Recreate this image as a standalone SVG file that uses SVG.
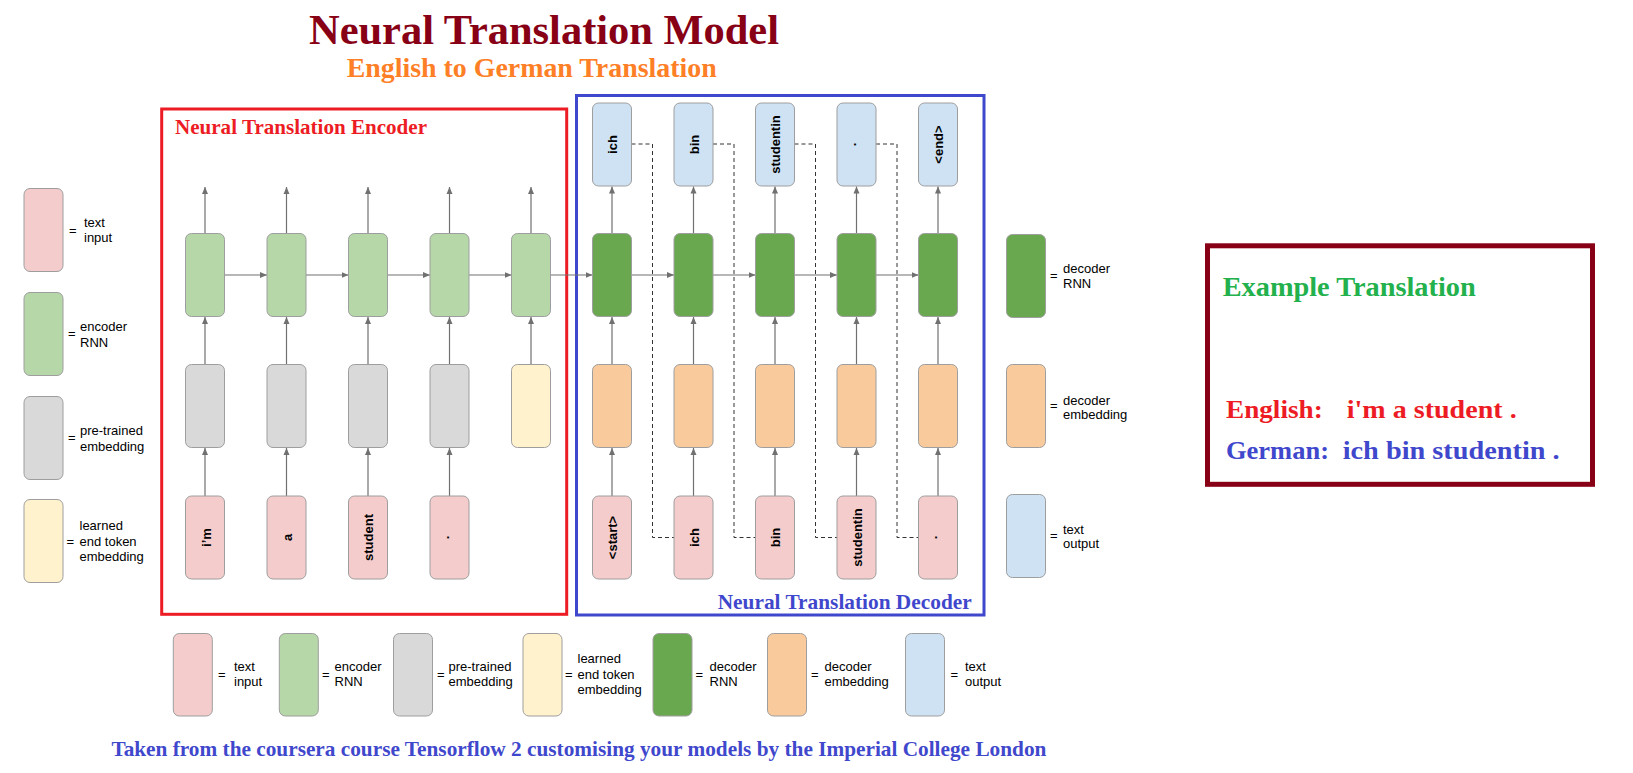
<svg xmlns="http://www.w3.org/2000/svg" width="1633" height="773" viewBox="0 0 1633 773">
<defs>
<marker id="ah" markerUnits="userSpaceOnUse" markerWidth="8" markerHeight="7" refX="7" refY="3.5" orient="auto">
<path d="M0,0.5 L7,3.5 L0,6.5 z" fill="#707070"/>
</marker>
</defs>
<style>
.box{stroke:#9e9e9e;stroke-width:1}
.pink{fill:#f4cccc}.lg{fill:#b6d7a8}.gray{fill:#d9d9d9}.yel{fill:#fff2cc}.dg{fill:#6aa84f}.org{fill:#f9cb9c}.lb{fill:#cfe2f3}
.arr{stroke:#707070;stroke-width:1.2;fill:none;marker-end:url(#ah)}
.dash{stroke:#333;stroke-width:1;fill:none;stroke-dasharray:4 3}
.lbl{font-family:"Liberation Sans",Arial,sans-serif;font-size:13px;font-weight:bold;fill:#000;text-anchor:middle}
.leg{font-family:"Liberation Sans",Arial,sans-serif;font-size:13px;fill:#000}
.ser{font-family:"Liberation Serif","Times New Roman",serif;font-weight:bold}
.frame{fill:none}
</style>
<rect width="1633" height="773" fill="#fff"/>

<g id="titles" class="ser">
<text x="544" y="43.5" text-anchor="middle" font-size="42" fill="#880015" textLength="470" lengthAdjust="spacingAndGlyphs">Neural Translation Model</text>
<text x="531.7" y="77" text-anchor="middle" font-size="28" fill="#ff7f27" textLength="370" lengthAdjust="spacingAndGlyphs">English to German Translation</text>
</g>

<g id="encoder-frame">
<rect class="frame" x="161.7" y="109" width="405" height="505.3" stroke="#ed1c24" stroke-width="3"/>
<text class="ser" x="175" y="134" font-size="21" fill="#ed1c24" textLength="252" lengthAdjust="spacingAndGlyphs">Neural Translation Encoder</text>
</g>

<g id="decoder-frame">
<rect class="frame" x="576.5" y="95.5" width="407.5" height="519.5" stroke="#3f48cc" stroke-width="3"/>
<text class="ser" x="717.7" y="608.5" font-size="21" fill="#3f48cc" textLength="254" lengthAdjust="spacingAndGlyphs">Neural Translation Decoder</text>
</g>

<g id="connectors">
<path class="arr" d="M205,233.5 V187"/>
<path class="arr" d="M286.5,233.5 V187"/>
<path class="arr" d="M368,233.5 V187"/>
<path class="arr" d="M449.5,233.5 V187"/>
<path class="arr" d="M531,233.5 V187"/>
<path class="arr" d="M205,364.5 V317"/>
<path class="arr" d="M286.5,364.5 V317"/>
<path class="arr" d="M368,364.5 V317"/>
<path class="arr" d="M449.5,364.5 V317"/>
<path class="arr" d="M531,364.5 V317"/>
<path class="arr" d="M205,496 V448"/>
<path class="arr" d="M286.5,496 V448"/>
<path class="arr" d="M368,496 V448"/>
<path class="arr" d="M449.5,496 V448"/>
<path class="arr" d="M224.5,275 H267"/>
<path class="arr" d="M306,275 H348.5"/>
<path class="arr" d="M387.5,275 H430"/>
<path class="arr" d="M469,275 H511.5"/>
<path class="arr" d="M550.5,275 H592.5"/>
<path class="arr" d="M631.5,275 H674"/>
<path class="arr" d="M713,275 H755.5"/>
<path class="arr" d="M794.5,275 H837"/>
<path class="arr" d="M876,275 H918.5"/>
<path class="arr" d="M612,233.5 V186.5"/>
<path class="arr" d="M693.5,233.5 V186.5"/>
<path class="arr" d="M775,233.5 V186.5"/>
<path class="arr" d="M856.5,233.5 V186.5"/>
<path class="arr" d="M938,233.5 V186.5"/>
<path class="arr" d="M612,364.5 V317"/>
<path class="arr" d="M693.5,364.5 V317"/>
<path class="arr" d="M775,364.5 V317"/>
<path class="arr" d="M856.5,364.5 V317"/>
<path class="arr" d="M938,364.5 V317"/>
<path class="arr" d="M612,496 V448"/>
<path class="arr" d="M693.5,496 V448"/>
<path class="arr" d="M775,496 V448"/>
<path class="arr" d="M856.5,496 V448"/>
<path class="arr" d="M938,496 V448"/>
<path class="dash" d="M631.5,144 H652.5 V537.5 H674"/>
<path class="dash" d="M713,144 H734 V537.5 H755.5"/>
<path class="dash" d="M794.5,144 H815.5 V537.5 H837"/>
<path class="dash" d="M876,144 H897 V537.5 H918.5"/>
</g>

<g id="enc-col-1">
<rect class="box lg" x="185.5" y="233.5" width="39" height="83" rx="6"/>
<rect class="box gray" x="185.5" y="364.5" width="39" height="83" rx="6"/>
<rect class="box pink" x="185.5" y="496" width="39" height="83" rx="6"/>
<text class="lbl" transform="translate(210.5,537.5) rotate(-90)">i’m</text>
</g>
<g id="enc-col-2">
<rect class="box lg" x="267" y="233.5" width="39" height="83" rx="6"/>
<rect class="box gray" x="267" y="364.5" width="39" height="83" rx="6"/>
<rect class="box pink" x="267" y="496" width="39" height="83" rx="6"/>
<text class="lbl" transform="translate(291.5,537.5) rotate(-90)">a</text>
</g>
<g id="enc-col-3">
<rect class="box lg" x="348.5" y="233.5" width="39" height="83" rx="6"/>
<rect class="box gray" x="348.5" y="364.5" width="39" height="83" rx="6"/>
<rect class="box pink" x="348.5" y="496" width="39" height="83" rx="6"/>
<text class="lbl" transform="translate(373,537.5) rotate(-90)">student</text>
</g>
<g id="enc-col-4">
<rect class="box lg" x="430" y="233.5" width="39" height="83" rx="6"/>
<rect class="box gray" x="430" y="364.5" width="39" height="83" rx="6"/>
<rect class="box pink" x="430" y="496" width="39" height="83" rx="6"/>
<text class="lbl" transform="translate(448.5,537.5) rotate(-90)">.</text>
</g>
<g id="enc-col-5">
<rect class="box lg" x="511.5" y="233.5" width="39" height="83" rx="6"/>
<rect class="box yel" x="511.5" y="364.5" width="39" height="83" rx="6"/>
</g>

<g id="dec-col-1">
<rect class="box lb" x="592.5" y="103" width="39" height="83" rx="6"/>
<rect class="box dg" x="592.5" y="233.5" width="39" height="83" rx="6"/>
<rect class="box org" x="592.5" y="364.5" width="39" height="83" rx="6"/>
<rect class="box pink" x="592.5" y="496" width="39" height="83" rx="6"/>
<text class="lbl" transform="translate(617,144.5) rotate(-90)">ich</text>
<text class="lbl" transform="translate(617,537.5) rotate(-90)">&lt;start&gt;</text>
</g>
<g id="dec-col-2">
<rect class="box lb" x="674" y="103" width="39" height="83" rx="6"/>
<rect class="box dg" x="674" y="233.5" width="39" height="83" rx="6"/>
<rect class="box org" x="674" y="364.5" width="39" height="83" rx="6"/>
<rect class="box pink" x="674" y="496" width="39" height="83" rx="6"/>
<text class="lbl" transform="translate(698.5,144.5) rotate(-90)">bin</text>
<text class="lbl" transform="translate(698.5,537.5) rotate(-90)">ich</text>
</g>
<g id="dec-col-3">
<rect class="box lb" x="755.5" y="103" width="39" height="83" rx="6"/>
<rect class="box dg" x="755.5" y="233.5" width="39" height="83" rx="6"/>
<rect class="box org" x="755.5" y="364.5" width="39" height="83" rx="6"/>
<rect class="box pink" x="755.5" y="496" width="39" height="83" rx="6"/>
<text class="lbl" transform="translate(780,144.5) rotate(-90)">studentin</text>
<text class="lbl" transform="translate(780,537.5) rotate(-90)">bin</text>
</g>
<g id="dec-col-4">
<rect class="box lb" x="837" y="103" width="39" height="83" rx="6"/>
<rect class="box dg" x="837" y="233.5" width="39" height="83" rx="6"/>
<rect class="box org" x="837" y="364.5" width="39" height="83" rx="6"/>
<rect class="box pink" x="837" y="496" width="39" height="83" rx="6"/>
<text class="lbl" transform="translate(855.5,144.5) rotate(-90)">.</text>
<text class="lbl" transform="translate(861.5,537.5) rotate(-90)">studentin</text>
</g>
<g id="dec-col-5">
<rect class="box lb" x="918.5" y="103" width="39" height="83" rx="6"/>
<rect class="box dg" x="918.5" y="233.5" width="39" height="83" rx="6"/>
<rect class="box org" x="918.5" y="364.5" width="39" height="83" rx="6"/>
<rect class="box pink" x="918.5" y="496" width="39" height="83" rx="6"/>
<text class="lbl" transform="translate(943,144.5) rotate(-90)">&lt;end&gt;</text>
<text class="lbl" transform="translate(937,537.5) rotate(-90)">.</text>
</g>

<g id="legend-left" class="leg">
<rect class="box pink" x="24" y="188.5" width="39" height="83" rx="6"/>
<text x="69" y="235">=</text><text x="84" y="226.5">text</text><text x="84" y="242">input</text>
<rect class="box lg" x="24" y="292.5" width="39" height="83" rx="6"/>
<text x="68" y="338">=</text><text x="80" y="330.5">encoder</text><text x="80" y="346.5">RNN</text>
<rect class="box gray" x="24" y="396.5" width="39" height="83" rx="6"/>
<text x="68" y="441.5">=</text><text x="80" y="434.5">pre-trained</text><text x="80" y="450.5">embedding</text>
<rect class="box yel" x="24" y="499.5" width="39" height="83" rx="6"/>
<text x="66.5" y="545.5">=</text><text x="79.5" y="530">learned</text><text x="79.5" y="545.5">end token</text><text x="79.5" y="561">embedding</text>
</g>

<g id="legend-right" class="leg">
<rect class="box dg" x="1006.5" y="234.5" width="39" height="83" rx="6"/>
<text x="1050" y="280">=</text><text x="1063" y="272.5">decoder</text><text x="1063" y="288">RNN</text>
<rect class="box org" x="1006.5" y="364.5" width="39" height="83" rx="6"/>
<text x="1050" y="410">=</text><text x="1063" y="404.5">decoder</text><text x="1063" y="418.5">embedding</text>
<rect class="box lb" x="1006.5" y="494.5" width="39" height="83" rx="6"/>
<text x="1050" y="540">=</text><text x="1063" y="533.5">text</text><text x="1063" y="548">output</text>
</g>

<g id="legend-bottom" class="leg">
<rect class="box pink" x="173.3" y="633.5" width="39" height="82.5" rx="6"/>
<text x="218" y="679">=</text><text x="234" y="670.5">text</text><text x="234" y="686">input</text>
<rect class="box lg" x="279.3" y="633.5" width="39" height="82.5" rx="6"/>
<text x="322" y="679">=</text><text x="334.5" y="670.5">encoder</text><text x="334.5" y="686">RNN</text>
<rect class="box gray" x="393.5" y="633.5" width="39" height="82.5" rx="6"/>
<text x="437" y="679">=</text><text x="448.5" y="670.5">pre-trained</text><text x="448.5" y="686">embedding</text>
<rect class="box yel" x="523" y="633.5" width="39" height="82.5" rx="6"/>
<text x="565" y="679">=</text><text x="577.5" y="662.5">learned</text><text x="577.5" y="678.5">end token</text><text x="577.5" y="694">embedding</text>
<rect class="box dg" x="653" y="633.5" width="39" height="82.5" rx="6"/>
<text x="695.5" y="679">=</text><text x="709.5" y="670.5">decoder</text><text x="709.5" y="686">RNN</text>
<rect class="box org" x="767.5" y="633.5" width="39" height="82.5" rx="6"/>
<text x="811" y="679">=</text><text x="824.5" y="670.5">decoder</text><text x="824.5" y="686">embedding</text>
<rect class="box lb" x="905.5" y="633.5" width="39" height="82.5" rx="6"/>
<text x="950.5" y="679">=</text><text x="965" y="670.5">text</text><text x="965" y="686">output</text>
</g>

<g id="example-translation" class="ser">
<rect class="frame" x="1207.5" y="245.8" width="385" height="238.5" stroke="#880015" stroke-width="5"/>
<text x="1222.7" y="295.7" font-size="27" fill="#22b14c" textLength="253" lengthAdjust="spacingAndGlyphs">Example Translation</text>
<text x="1226" y="418.3" font-size="26" fill="#ed1c24" textLength="96.7" lengthAdjust="spacingAndGlyphs">English:</text>
<text x="1346.7" y="418.3" font-size="26" fill="#ed1c24" textLength="170" lengthAdjust="spacingAndGlyphs">i'm a student .</text>
<text x="1226" y="459.3" font-size="26" fill="#3f48cc" textLength="103" lengthAdjust="spacingAndGlyphs">German:</text>
<text x="1342.7" y="459.3" font-size="26" fill="#3f48cc" textLength="217" lengthAdjust="spacingAndGlyphs">ich bin studentin .</text>
</g>

<g id="footer" class="ser">
<text x="111.4" y="755.5" font-size="22" fill="#3f48cc" textLength="935" lengthAdjust="spacingAndGlyphs">Taken from the coursera course Tensorflow 2 customising your models by the Imperial College London</text>
</g>
</svg>
